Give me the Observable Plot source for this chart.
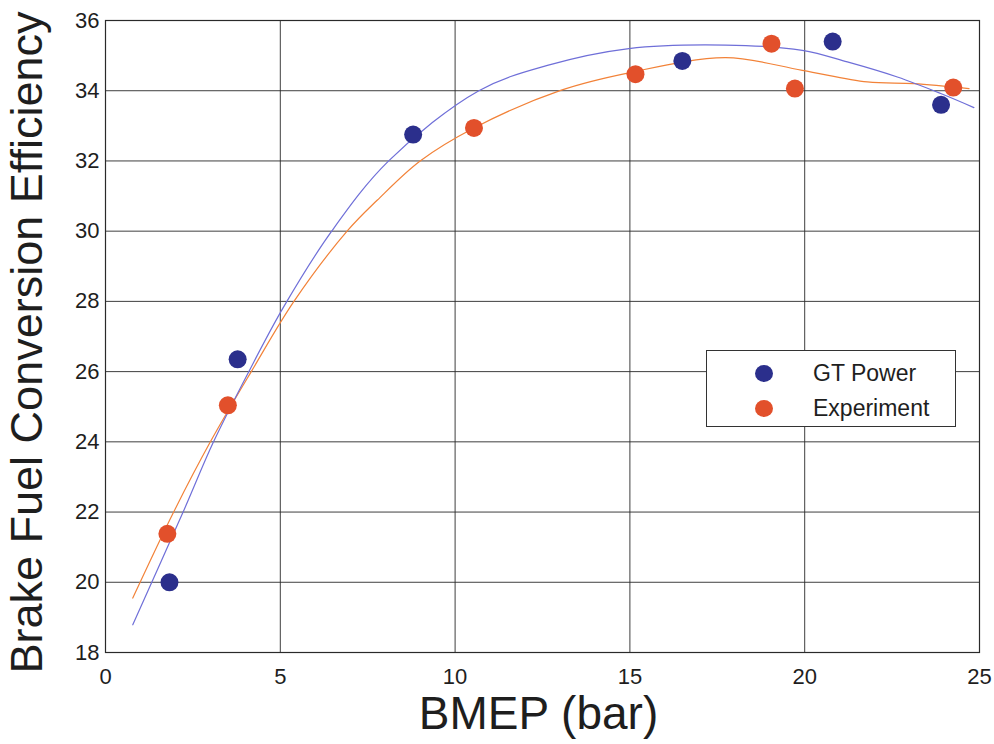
<!DOCTYPE html>
<html>
<head>
<meta charset="utf-8">
<script src="https://cdn.jsdelivr.net/npm/d3@7"></script>
<script src="https://cdn.jsdelivr.net/npm/@observablehq/plot@0.6"></script>
<style>
  html, body { margin: 0; padding: 0; background: #fff; }
  #wrap { position: relative; width: 994px; height: 744px; font-family: "Liberation Sans", Arial, sans-serif; }
  #legend { position: absolute; left: 706px; top: 350px; width: 250px; height: 77px; box-sizing: border-box;
    border: 1.3px solid #333; background: #fff; }
  .item { position: absolute; left: 0; display: flex; align-items: center; font-size: 23px; color: #1e1e1e; }
  .dot { width: 18px; height: 17px; border-radius: 50%; margin-left: 48px; margin-right: 40px; }
</style>
</head>
<body>
<div id="wrap"></div>
<script>
// Scatter data
const gtX  = [1.83, 3.78, 8.80, 16.50, 20.80, 23.90];
const gtY  = [20.00, 26.35, 32.75, 34.85, 35.40, 33.60];
const expX = [1.77, 3.50, 10.54, 15.16, 19.05, 19.72, 24.25];
const expY = [21.38, 25.04, 32.94, 34.47, 35.34, 34.06, 34.09];

// Fitted curves
const gtFitX  = [0.78, 2.22, 3.09, 4.10, 5.10, 6.47, 8.10, 10.68, 12.64, 14.97, 17.74, 19.93, 21.22, 22.65, 23.89, 24.84];
const gtFitY  = [18.79, 22.00, 24.00, 26.00, 27.85, 30.00, 32.00, 34.00, 34.72, 35.20, 35.30, 35.15, 34.82, 34.39, 33.92, 33.52];
const expFitX = [0.78, 1.95, 3.00, 4.17, 5.39, 6.91, 7.77, 9.00, 10.54, 13.02, 14.97, 17.74, 19.93, 21.79, 23.12, 24.70];
const expFitY = [19.55, 22.00, 24.00, 26.00, 28.00, 30.00, 30.88, 32.00, 32.94, 34.01, 34.51, 34.94, 34.58, 34.25, 34.20, 34.06];

const xTicks = [0, 5, 10, 15, 20, 25];
const yTicks = [18, 20, 22, 24, 26, 28, 30, 32, 34, 36];
const seriesNames = ["GT Power", "Experiment"];
const dotColors = ["#2b2f8c", "#e2502b"];
const lineColors = ["#6f6fd8", "#f28238"];
const xLabel = "BMEP (bar)";
const yLabel = "Brake Fuel Conversion Efficiency";

const gt = gtX.map((x, i) => ({x, y: gtY[i]}));
const ex = expX.map((x, i) => ({x, y: expY[i]}));
const gtFit = gtFitX.map((x, i) => ({x, y: gtFitY[i]}));
const exFit = expFitX.map((x, i) => ({x, y: expFitY[i]}));

const chart = Plot.plot({
  width: 994,
  height: 744,
  marginLeft: 105,
  marginRight: 15,
  marginTop: 20,
  marginBottom: 92,
  style: { fontFamily: "'Liberation Sans', Arial, sans-serif", background: "#fff", color: "#1e1e1e" },
  x: { domain: [0, 25] },
  y: { domain: [18, 36] },
  marks: [
    Plot.gridX(xTicks, { stroke: "#2a2a2a", strokeOpacity: 0.9, strokeWidth: 1 }),
    Plot.gridY(yTicks, { stroke: "#2a2a2a", strokeOpacity: 0.9, strokeWidth: 1 }),
    Plot.frame({ stroke: "#2a2a2a", strokeWidth: 1.2 }),
    Plot.axisX(xTicks, { tickSize: 0, tickPadding: 16, fontSize: 22, label: null, fill: "#1e1e1e" }),
    Plot.axisY(yTicks, { tickSize: 0, tickPadding: 6, fontSize: 22, label: null, fill: "#1e1e1e" }),
    Plot.line(exFit, { x: "x", y: "y", stroke: lineColors[1], strokeWidth: 1.2, curve: "catmull-rom" }),
    Plot.line(gtFit, { x: "x", y: "y", stroke: lineColors[0], strokeWidth: 1.2, curve: "catmull-rom" }),
    Plot.dot(gt, { x: "x", y: "y", r: 9, fill: dotColors[0], stroke: "none" }),
    Plot.dot(ex, { x: "x", y: "y", r: 9, fill: dotColors[1], stroke: "none" }),
    Plot.text([xLabel], { frameAnchor: "bottom", textAnchor: "middle", lineAnchor: "middle", dy: 62, dx: -4, fontSize: 46, fill: "#1e1e1e" }),
    Plot.text([yLabel], { frameAnchor: "left", textAnchor: "middle", lineAnchor: "middle", rotate: -90, dx: -78, dy: 6, fontSize: 45, fill: "#1e1e1e" })
  ]
});

const wrap = document.getElementById("wrap");
wrap.appendChild(chart);

const legend = document.createElement("div");
legend.id = "legend";
seriesNames.forEach((name, i) => {
  const item = document.createElement("div");
  item.className = "item";
  item.style.top = (i === 0 ? 9 : 44) + "px";
  const dot = document.createElement("span");
  dot.className = "dot";
  dot.style.background = dotColors[i];
  const label = document.createElement("span");
  label.textContent = name;
  item.appendChild(dot);
  item.appendChild(label);
  legend.appendChild(item);
});
wrap.appendChild(legend);
</script>
</body>
</html>
